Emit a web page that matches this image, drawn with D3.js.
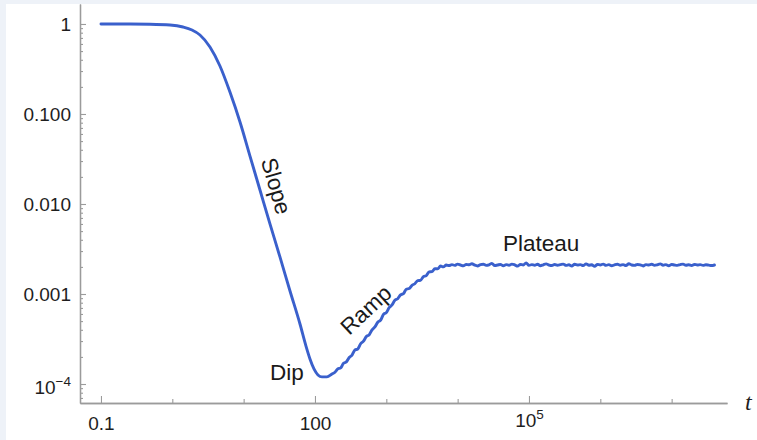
<!DOCTYPE html>
<html>
<head>
<meta charset="utf-8">
<script src="https://cdn.jsdelivr.net/npm/d3@7/dist/d3.min.js"></script>
<style>
  html, body { margin: 0; padding: 0; background: #ffffff; }
  svg { display: block; }
</style>
</head>
<body>
<svg id="chart" width="757" height="440"></svg>
<script>
// Survival-probability style curve on log-log axes: slope, dip, ramp, plateau.

// Smooth early-time part (log10 t, value)
const smoothLogT = [-1, -0.593, -0.313, -0.032, 0.150, 0.276, 0.388, 0.528, 0.668, 0.808,
  0.949, 1.089, 1.229, 1.369, 1.509, 1.650, 1.790, 1.874, 1.930, 1.986, 2.042, 2.098, 2.168, 2.238];
const smoothValues = [1, 1, 0.995, 0.975, 0.926, 0.858, 0.755, 0.555, 0.341, 0.175,
  0.0815, 0.0341, 0.0143, 0.0060, 0.00258, 0.00108, 4.64e-4, 2.64e-4, 1.90e-4, 1.47e-4,
  1.26e-4, 1.20e-4, 1.20e-4, 1.29e-4];

// Noisy ramp
const rampLogT = [2.28, 2.32, 2.36, 2.40, 2.44, 2.48, 2.52, 2.56, 2.60, 2.64, 2.68, 2.72, 2.76,
  2.80, 2.84, 2.88, 2.92, 2.96, 3.00, 3.04, 3.08, 3.12, 3.16, 3.20, 3.24, 3.28, 3.32, 3.36,
  3.40, 3.44, 3.48, 3.52, 3.56, 3.60, 3.64, 3.68, 3.72, 3.76, 3.80, 3.84, 3.88];
const rampValues = [1.35e-4, 1.47e-4, 1.51e-4, 1.70e-4, 1.76e-4, 1.97e-4, 2.10e-4, 2.39e-4,
  2.45e-4, 2.80e-4, 2.99e-4, 3.37e-4, 3.52e-4, 4.00e-4, 4.30e-4, 4.86e-4, 5.12e-4, 5.93e-4,
  6.21e-4, 7.05e-4, 7.55e-4, 8.52e-4, 8.86e-4, 9.78e-4, 1.010e-3, 1.13e-3, 1.15e-3, 1.25e-3,
  1.30e-3, 1.41e-3, 1.42e-3, 1.56e-3, 1.60e-3, 1.76e-3, 1.77e-3, 1.91e-3, 1.90e-3, 2.05e-3,
  2.00e-3, 2.10e-3, 2.07e-3];

// Noisy plateau
const plateauLogT = [3.92, 3.96, 4.00, 4.04, 4.08, 4.12, 4.16, 4.20, 4.24, 4.28, 4.32, 4.36,
  4.40, 4.44, 4.48, 4.52, 4.56, 4.60, 4.64, 4.68, 4.72, 4.76, 4.80, 4.84, 4.88, 4.92, 4.96,
  5.00, 5.04, 5.08, 5.12, 5.16, 5.20, 5.24, 5.28, 5.32, 5.36, 5.40, 5.44, 5.48, 5.52, 5.56,
  5.60, 5.64, 5.68, 5.72, 5.76, 5.80, 5.84, 5.88, 5.92, 5.96, 6.00, 6.04, 6.08, 6.12, 6.16,
  6.20, 6.24, 6.28, 6.32, 6.36, 6.40, 6.44, 6.48, 6.52, 6.56, 6.60, 6.64, 6.68, 6.72, 6.76,
  6.80, 6.84, 6.88, 6.92, 6.96, 7.00, 7.04, 7.08, 7.12, 7.16, 7.20, 7.24, 7.28, 7.32, 7.36,
  7.40, 7.44, 7.48, 7.52, 7.56, 7.60];
const plateauValues = [
  2.12e-3, 2.08e-3, 2.15e-3, 2.10e-3, 2.06e-3, 2.13e-3, 2.11e-3, 2.17e-3, 2.09e-3, 2.05e-3,
  2.12e-3, 2.14e-3, 2.08e-3, 2.11e-3, 2.19e-3, 2.07e-3, 2.10e-3, 2.13e-3, 2.06e-3, 2.12e-3,
  2.09e-3, 2.15e-3, 2.11e-3, 2.04e-3, 2.13e-3, 2.10e-3, 2.22e-3, 2.08e-3, 2.12e-3, 2.09e-3,
  2.14e-3, 2.06e-3, 2.11e-3, 2.16e-3, 2.10e-3, 2.07e-3, 2.13e-3, 2.09e-3, 2.12e-3, 2.15e-3,
  2.08e-3, 2.11e-3, 2.05e-3, 2.14e-3, 2.10e-3, 2.12e-3, 2.07e-3, 2.16e-3, 2.09e-3, 2.11e-3,
  2.03e-3, 2.13e-3, 2.10e-3, 2.15e-3, 2.08e-3, 2.12e-3, 2.06e-3, 2.11e-3, 2.14e-3, 2.09e-3,
  2.12e-3, 2.07e-3, 2.17e-3, 2.10e-3, 2.08e-3, 2.13e-3, 2.11e-3, 2.05e-3, 2.12e-3, 2.10e-3,
  2.14e-3, 2.08e-3, 2.11e-3, 2.16e-3, 2.09e-3, 2.12e-3, 2.06e-3, 2.13e-3, 2.10e-3, 2.08e-3,
  2.12e-3, 2.15e-3, 2.09e-3, 2.11e-3, 2.07e-3, 2.13e-3, 2.10e-3, 2.12e-3, 2.08e-3, 2.11e-3,
  2.09e-3, 2.07e-3, 2.10e-3];

// Axis ticks and labels ("^" marks a superscript exponent)
const xMajorTicks = [0.1, 100, 1e5];
const xTickLabels = ["0.1", "100", "10^5"];
const xMinorTicks = [1, 10, 1000, 1e4, 1e6, 1e7];
const yMajorTicks = [1, 0.1, 0.01, 0.001, 1e-4];
const yTickLabels = ["1", "0.100", "0.010", "0.001", "10^\u22124"];

// Region annotations
const annotations = ["Slope", "Dip", "Ramp", "Plateau"];
const xAxisTitle = "t";

const points = []
  .concat(smoothLogT.map((e, i) => ({ t: Math.pow(10, e), v: smoothValues[i] })))
  .concat(rampLogT.map((e, i) => ({ t: Math.pow(10, e), v: rampValues[i] })))
  .concat(plateauLogT.map((e, i) => ({ t: Math.pow(10, e), v: plateauValues[i] })));

const svg = d3.select("#chart");
const W = 757, H = 440;
const plotLeft = 80, plotRight = 727, plotTop = 4, plotBottom = 403;

// frame
svg.append("rect").attr("width", W).attr("height", H).attr("fill", "#ffffff");
svg.append("rect").attr("x", 0).attr("y", 0).attr("width", 6).attr("height", H).attr("fill", "#eef2f8");
svg.append("rect").attr("x", 0).attr("y", 0).attr("width", W).attr("height", 4).attr("fill", "#eef2f8");

const x = d3.scaleLog().domain([Math.pow(10, -1.294), Math.pow(10, 7.776)]).range([plotLeft, plotRight]);
const y = d3.scaleLog().domain([Math.pow(10, -4.211), Math.pow(10, 0.222)]).range([plotBottom, plotTop]);

const axisColor = "#9b9b9b";
const labelFont = "'Liberation Sans', Arial, Helvetica, sans-serif";

function styleAxis(g) {
  g.select(".domain").attr("stroke", axisColor).attr("stroke-width", 1.3);
  g.selectAll(".tick line").attr("stroke", axisColor).attr("stroke-width", 1.1);
}

function writeLabel(sel, label, supDy) {
  sel.text(null);
  const parts = label.split("^");
  sel.append("tspan").text(parts[0]);
  if (parts.length > 1) {
    sel.append("tspan").attr("font-size", 13.5).attr("dy", supDy).text(parts[1]);
  }
}

// x axis: minor decade ticks
const gxMinor = svg.append("g").attr("transform", `translate(0,${plotBottom})`)
  .call(d3.axisBottom(x).tickValues(xMinorTicks).tickSize(-4).tickSizeOuter(0).tickFormat(""));
styleAxis(gxMinor);

// x axis: labelled ticks
const gx = svg.append("g").attr("transform", `translate(0,${plotBottom})`)
  .call(d3.axisBottom(x).tickValues(xMajorTicks).tickSize(-7).tickSizeOuter(0).tickPadding(14)
    .tickFormat((d, i) => xTickLabels[i]));
styleAxis(gx);
gx.selectAll(".tick text")
  .attr("font-family", labelFont).attr("font-size", 19).attr("fill", "#1e1e1e")
  .attr("dy", "0.71em")
  .each(function (d, i) {
    const sel = d3.select(this);
    if (xTickLabels[i].includes("^")) {
      sel.attr("dy", "0.5em");
      writeLabel(sel, xTickLabels[i], -8);
    }
  });

// y axis: minor ticks at 2..9 within each decade
const yMinor = y.ticks().filter(d => !yMajorTicks.some(m => Math.abs(m - d) / m < 1e-9));
const gyMinor = svg.append("g").attr("transform", `translate(${plotLeft},0)`)
  .call(d3.axisLeft(y).tickValues(yMinor).tickSize(-3).tickSizeOuter(0).tickFormat(""));
styleAxis(gyMinor);

// y axis: labelled ticks
const gy = svg.append("g").attr("transform", `translate(${plotLeft},0)`)
  .call(d3.axisLeft(y).tickValues(yMajorTicks).tickSize(-6).tickSizeOuter(0).tickPadding(9)
    .tickFormat((d, i) => yTickLabels[i]));
styleAxis(gy);
gy.selectAll(".tick text")
  .attr("font-family", labelFont).attr("font-size", 19).attr("fill", "#1e1e1e")
  .each(function (d, i) {
    const sel = d3.select(this);
    if (yTickLabels[i].includes("^")) {
      sel.attr("dy", "0.5em");
      writeLabel(sel, yTickLabels[i], -8);
    }
  });

// axis title
svg.append("text")
  .attr("x", 745).attr("y", 410)
  .attr("font-family", "'Liberation Serif', 'Times New Roman', serif")
  .attr("font-style", "italic").attr("font-size", 24).attr("fill", "#1e1e1e")
  .text(xAxisTitle);

// curve
const line = d3.line()
  .x(d => x(d.t))
  .y(d => y(d.v))
  .curve(d3.curveMonotoneX);

svg.append("path")
  .datum(points)
  .attr("d", line)
  .attr("fill", "none")
  .attr("stroke", "#3a60cc")
  .attr("stroke-width", 2.9)
  .attr("stroke-linejoin", "round")
  .attr("stroke-linecap", "round");

// annotations
const annFont = { family: labelFont, size: 22.5, color: "#1a1a1a" };
function annotate(text, tx, ty, angle, anchor, baseline) {
  svg.append("text")
    .attr("transform", `translate(${tx},${ty}) rotate(${angle})`)
    .attr("text-anchor", anchor)
    .attr("dominant-baseline", baseline)
    .attr("font-family", annFont.family)
    .attr("font-size", annFont.size)
    .attr("fill", annFont.color)
    .text(text);
}
annotate(annotations[0], 276, 186, 74, "middle", "central");
annotate(annotations[1], 270, 380, 0, "start", "alphabetic");
annotate(annotations[2], 366, 310, -43, "middle", "central");
annotate(annotations[3], 503, 251, 0, "start", "alphabetic");
</script>
</body>
</html>
